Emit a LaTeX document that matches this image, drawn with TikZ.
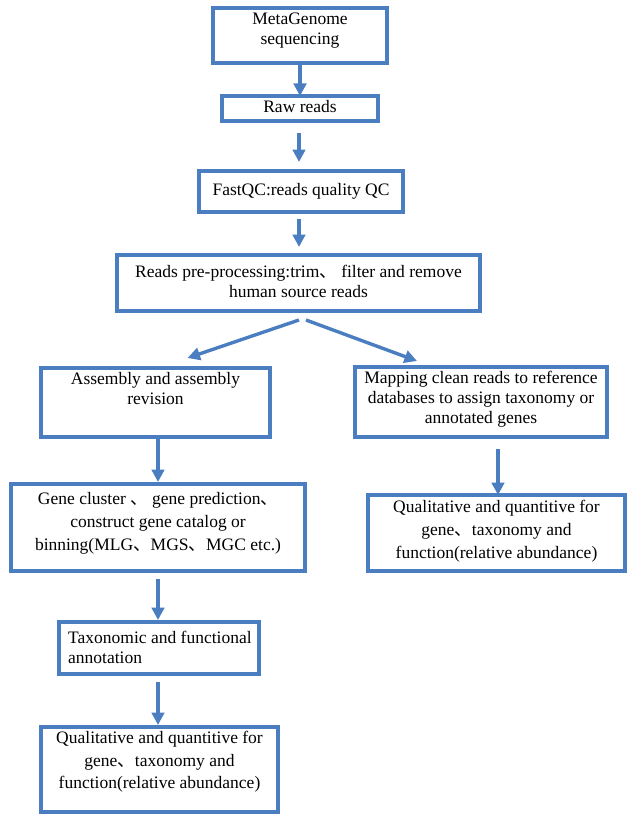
\documentclass[tikz,border=0pt]{standalone}
\usepackage{fontspec}
\setmainfont{Liberation Serif}
\newfontfamily\cjkfont{Noto Sans CJK SC}
\usetikzlibrary{arrows.meta}
\definecolor{flowblue}{RGB}{74, 126, 193}
\newcommand{\dunhao}{{\cjkfont 、}}

\begin{document}
\begin{tikzpicture}[x=1pt, y=-1pt,
  stepbox/.style={draw=flowblue, line width=3.2pt, rectangle, inner sep=0pt, outer sep=0pt},
  boxtext/.style={anchor=north, inner sep=0pt, align=center, font=\fontsize{17.5}{20}\selectfont},
  widetext/.style={boxtext, font=\fontsize{17.5}{23}\selectfont},
  flow/.style={draw=flowblue, line width=3.4pt, -{Triangle[width=12.5pt, length=12.5pt]}}]
\useasboundingbox (0,0) rectangle (632,824);

% Boxes
\node[stepbox, minimum width=174pt, minimum height=55pt] (meta) at (300,35.5) {};
\node[stepbox, minimum width=156pt, minimum height=25pt] (raw) at (300,108.5) {};
\node[stepbox, minimum width=204pt, minimum height=41pt] (qc) at (301,191.5) {};
\node[stepbox, minimum width=363pt, minimum height=56pt] (pre) at (298.5,283) {};
\node[stepbox, minimum width=229pt, minimum height=69pt] (asm) at (155.5,402.5) {};
\node[stepbox, minimum width=294pt, minimum height=87pt] (gene) at (158,527.5) {};
\node[stepbox, minimum width=200pt, minimum height=52pt] (tax) at (159,648) {};
\node[stepbox, minimum width=237pt, minimum height=85pt] (quall) at (159.5,769.5) {};
\node[stepbox, minimum width=252pt, minimum height=70pt] (map) at (481,402) {};
\node[stepbox, minimum width=257pt, minimum height=76pt] (qualr) at (496.5,533) {};

% Texts
\node[boxtext] (meta-t) at (300,13) {MetaGenome\\sequencing};
\node[boxtext] (raw-t) at (300,100) {Raw reads};
\node[boxtext] (qc-t) at (301,183) {FastQC:reads quality QC};
\node[boxtext] (pre-t) at (298.5,265) {Reads pre-processing:trim\dunhao{} filter and remove\\human source reads};
\node[boxtext] (asm-t) at (155.5,372) {Assembly and assembly\\revision};
\node[widetext] (gene-t) at (158,492) {Gene cluster \dunhao{} gene prediction\dunhao\\construct gene catalog or\\binning(MLG\dunhao MGS\dunhao MGC etc.)};
\node[boxtext, anchor=north west, align=left, font=\fontsize{17.5}{19.5}\selectfont] (tax-t) at (68,631) {Taxonomic and functional\\annotation};
\node[widetext, font=\fontsize{17.5}{22.5}\selectfont] (quall-t) at (159.5,731) {Qualitative and quantitive for\\gene\dunhao taxonomy and\\function(relative abundance)};
\node[boxtext] (map-t) at (481,371) {Mapping clean reads to reference\\databases to assign taxonomy or\\annotated genes};
\node[widetext] (qualr-t) at (496.5,500) {Qualitative and quantitive for\\gene\dunhao taxonomy and\\function(relative abundance)};

% Arrows
\draw[flow] (meta) -- (raw);
\draw[flow, shorten <=12pt, shorten >=9pt] ([xshift=-1pt]raw.south) -- ([xshift=-2pt]qc.north);
\draw[flow, shorten <=7pt, shorten >=8pt] ([xshift=-2pt]qc.south) -- ([xshift=0.5pt]pre.north);
\draw[flow] ([shift={(0.5,9)}]pre.south) -- ([shift={(32,-10)}]asm.north);
\draw[flow] ([shift={(7.5,9)}]pre.south) -- ([shift={(-64,-6)}]map.north);
\draw[flow, shorten >=2pt] (asm.south -| gene.north) -- (gene.north);
\draw[flow, shorten <=12pt] ([xshift=17pt]map.south) -- ([xshift=1.5pt]qualr.north);
\draw[flow, shorten <=8pt, shorten >=2pt] (gene.south) -- (gene.south |- tax.north);
\draw[flow, shorten <=8pt, shorten >=2pt] ([xshift=-1pt]tax.south) -- ([xshift=-1pt]tax.south |- quall.north);
\end{tikzpicture}
\end{document}
